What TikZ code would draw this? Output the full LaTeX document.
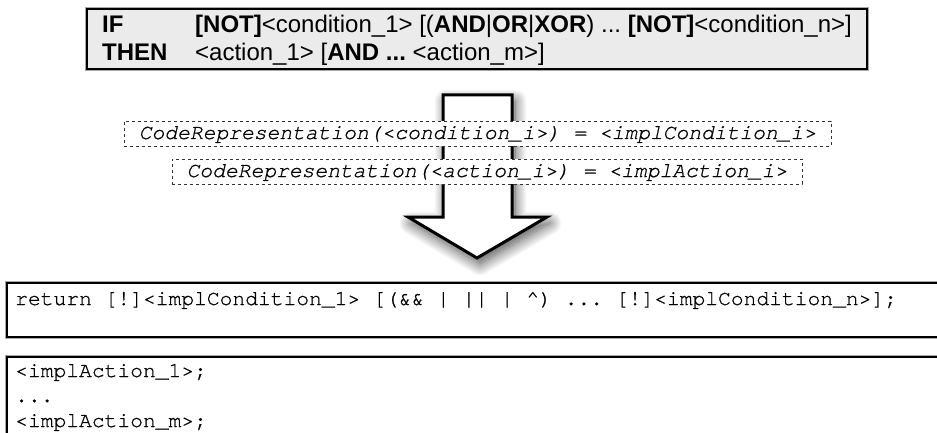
\documentclass[tikz,border=0pt]{standalone}
\usepackage{fontspec}
\setmainfont{Liberation Sans}
\newfontfamily\codefont[FakeBold=0.8]{TeX Gyre Cursor}
\usetikzlibrary{shadows.blur}
\frenchspacing

\tikzset{
  rulebox/.style={fill=black!8, draw=black, line width=2.2pt},
  codebox/.style={fill=white, draw=black, line width=2.2pt},
  halo/.style={draw=black!35, line width=4pt},
  mapbox/.style={draw=black!80, line width=0.8pt, dash pattern=on 3pt off 3pt,
    fill=white, inner xsep=0pt, inner ysep=0pt, text height=15pt, text depth=4pt,
    minimum height=25pt, font=\codefont\itshape\fontsize{21.3}{25}\selectfont},
  ruletext/.style={anchor=base west, inner sep=0pt, font=\fontsize{24}{28}\selectfont},
  codetext/.style={anchor=base west, inner sep=0pt, font=\codefont\fontsize{21.3}{25}\selectfont},
  bigarrow/.style={fill=white, draw=black, line width=3pt, line join=miter,
    blur shadow={shadow xshift=3pt, shadow yshift=-6pt, shadow blur radius=12pt,
      shadow opacity=70, shadow blur steps=18}},
}

\begin{document}
\begin{tikzpicture}[x=1pt, y=-1pt]
\useasboundingbox (0,0) rectangle (937,433);
\clip (0,0) rectangle (937,433);

% rule template
\draw[halo] (87,9) rectangle (867,69);
\draw[rulebox] (87,9) rectangle (867,69);
\node[ruletext] (kwif) at (102,33) {\bfseries IF};
\node[ruletext] (cond) at (195,33) {\textbf{[NOT]}<condition\_1> [(\textbf{AND}|\textbf{OR}|\textbf{XOR}) ... \textbf{[NOT]}<condition\_n>]};
\node[ruletext] (kwthen) at (102,61) {\bfseries THEN};
\node[ruletext] (act) at (195,61) {<action\_1> [\textbf{AND ...} <action\_m>]};

% transformation arrow
\draw[bigarrow] (443,95) -- (512,95) -- (512,217) -- (547,217) -- (477,258)
  -- (408,217) -- (443,217) -- cycle;

% mapping definitions
\node[mapbox, minimum width=707pt] (mapcond) at (477.5,133.5)
  {CodeRepresentation(<condition\_i>) = <implCondition\_i>};
\node[mapbox, minimum width=630pt] (mapact) at (487,171.5)
  {CodeRepresentation(<action\_i>) = <implAction\_i>};

% generated code
\draw[halo] (7,283) rectangle (950,337);
\draw[codebox] (7,283) rectangle (950,337);
\node[codetext] (ret) at (15,305)
  {return [!]<implCondition\_1> [(\&\& | || | \textasciicircum) ... [!]<implCondition\_n>];};

\draw[halo] (7,357) rectangle (950,450);
\draw[codebox] (7,357) rectangle (950,450);
\node[codetext] (a1) at (15,377) {<implAction\_1>;};
\node[codetext] (adots) at (15,402) {...};
\node[codetext] (am) at (15,427) {<implAction\_m>;};
\end{tikzpicture}
\end{document}
